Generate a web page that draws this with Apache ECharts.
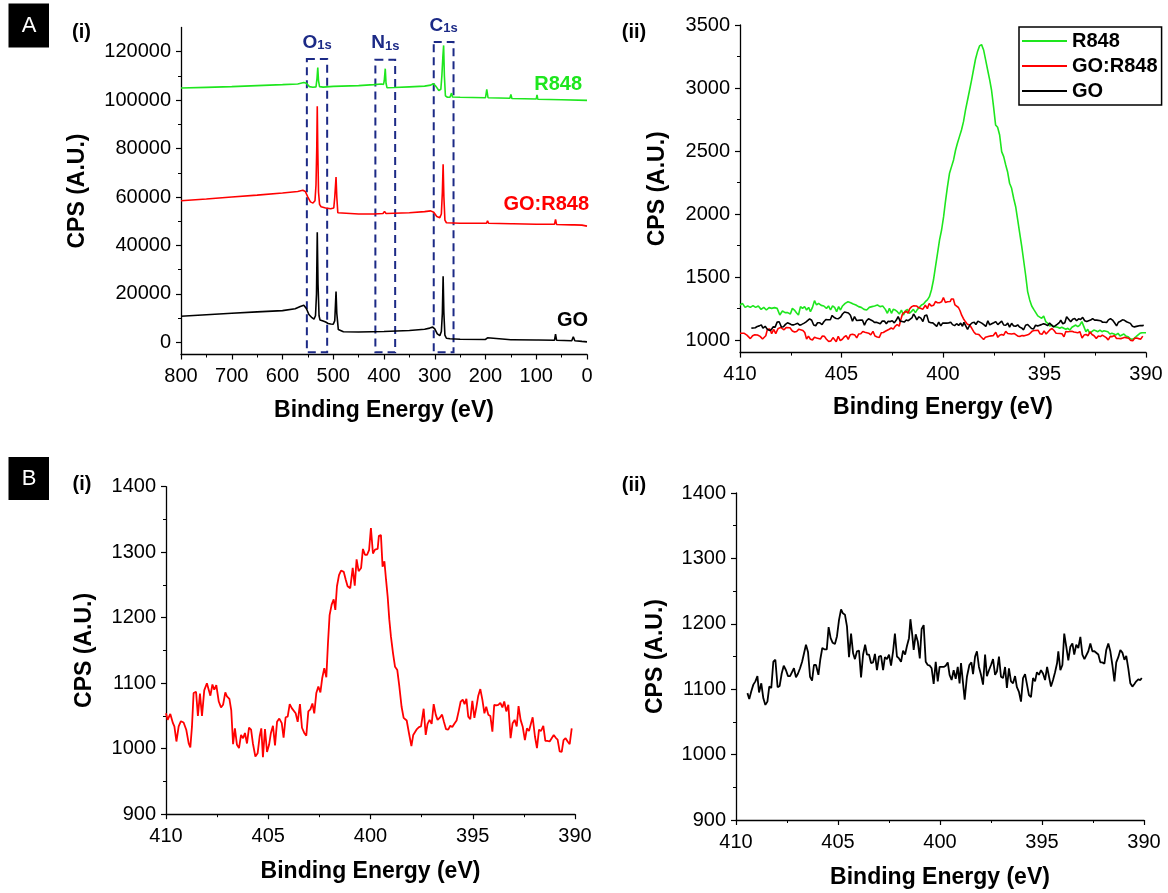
<!DOCTYPE html>
<html><head><meta charset="utf-8">
<script src="https://cdn.jsdelivr.net/npm/echarts@6/dist/echarts.min.js"></script>
<style>html,body{margin:0;padding:0;background:#fff}#c{width:1168px;height:893px}</style>
</head><body><div id="c"></div><script>
// ---------- DATA ----------
// Survey spectra [binding energy eV, CPS]
const surveyGO = [[800,10800],[750,11400],[700,12000],[650,12600],[600,13100],[575,13900],[565,14800],[558,15300],[553,14000],[548,11500],[542,10200],[538,9600],[535,11000],[533,20000],[531.5,45500],[530,24000],[528,11000],[526,9200],[520,8800],[515,8400],[510,7800],[505,7600],[500,7500],[497,9000],[494.5,21000],[493,12000],[490,5300],[487,4600],[480,4400],[450,4300],[400,4500],[350,4900],[320,5400],[310,5900],[304,6300],[300,5600],[295,3500],[290,2800],[287,4500],[285,12000],[283.5,27300],[282,12000],[280,3000],[277,1700],[270,1500],[250,1300],[200,1200],[196,1900],[194,1200],[150,1100],[148,1700],[146,1100],[100,1000],[98,1700],[96,1000],[64,900],[62,3400],[60,900],[30,700],[27,2300],[24,700],[10,400],[0,200]];
const surveyGOR848 = [[800,58500],[750,59200],[700,60000],[650,60800],[600,61700],[570,62300],[560,62800],[555,62300],[550,60000],[545,58000],[540,57500],[536,58500],[534,65000],[532.5,80000],[531.5,97500],[530.5,80000],[529,62000],[527,57000],[524,56000],[515,55500],[505,55200],[499,55500],[497,60000],[494.5,68300],[493,60000],[491,53500],[488,53000],[450,53000],[420,53000],[402,53200],[399,54100],[396,53200],[350,53500],[320,54000],[308,54300],[302,53700],[296,52000],[290,51500],[287,53000],[285,62000],[283.5,73500],[282,60000],[280,50500],[277,49400],[250,49200],[198,49200],[196,50200],[194,49200],[150,49000],[148,49600],[146,49000],[100,48800],[98,49500],[96,48800],[64,48800],[62,50800],[60,48700],[30,48500],[27.5,49300],[25,48500],[10,48400],[0,48000]];
const surveyR848 = [[800,105000],[750,105300],[700,105600],[650,106000],[600,106400],[570,106700],[558,107300],[553,107000],[547,105600],[540,105300],[534,105500],[532,109000],[530.5,113500],[529,108000],[527,105600],[520,105400],[500,105700],[450,106000],[420,106400],[405,106700],[401,106500],[399.5,108000],[397.5,113000],[396,107000],[394,105100],[380,105200],[350,105500],[320,105800],[308,106200],[303,106800],[298,105800],[292,104000],[288,104500],[286,110000],[284,118000],[282.5,122600],[281,110000],[279,101800],[275,101200],[270,101200],[267,102900],[265,101300],[250,101200],[200,101000],[197.5,104500],[195,101000],[152,100800],[150,102400],[148,100700],[100,100500],[98.5,102200],[97,100400],[50,100200],[0,99900]];

// N1s high-resolution spectra [eV, CPS]
const n1sR848 = [[410.00,1278],[409.88,1291],[409.75,1259],[409.62,1270],[409.49,1259],[409.36,1273],[409.23,1259],[409.10,1270],[408.96,1243],[408.83,1259],[408.70,1238],[408.57,1257],[408.44,1251],[408.30,1257],[408.17,1251],[408.04,1198],[407.91,1230],[407.78,1217],[407.65,1217],[407.52,1206],[407.42,1251],[407.32,1238],[407.22,1217],[407.12,1198],[407.02,1265],[406.92,1251],[406.82,1265],[406.72,1238],[406.62,1259],[406.53,1225],[406.43,1259],[406.33,1312],[406.23,1278],[406.13,1291],[406.00,1275],[405.87,1270],[405.74,1251],[405.64,1270],[405.54,1238],[405.44,1270],[405.34,1259],[405.24,1225],[405.14,1265],[405.05,1238],[404.95,1270],[404.82,1291],[404.68,1304],[404.55,1296],[404.42,1286],[404.29,1278],[404.16,1265],[404.03,1259],[403.89,1243],[403.76,1238],[403.63,1259],[403.50,1265],[403.37,1270],[403.23,1278],[403.10,1265],[402.97,1270],[402.84,1243],[402.74,1212],[402.64,1251],[402.54,1212],[402.45,1243],[402.35,1238],[402.25,1225],[402.15,1206],[402.05,1238],[401.95,1198],[401.85,1233],[401.75,1243],[401.66,1212],[401.56,1225],[401.46,1243],[401.36,1217],[401.26,1243],[401.16,1259],[401.06,1278],[400.96,1286],[400.87,1304],[400.77,1318],[400.67,1344],[400.57,1397],[400.47,1476],[400.37,1582],[400.27,1688],[400.17,1794],[400.07,1873],[399.97,1979],[399.88,2098],[399.78,2217],[399.68,2323],[399.58,2376],[399.48,2429],[399.38,2508],[399.29,2561],[399.19,2614],[399.09,2667],[398.99,2733],[398.89,2826],[398.79,2905],[398.69,2984],[398.59,3064],[398.50,3143],[398.40,3228],[398.30,3289],[398.20,3334],[398.10,3344],[398.00,3302],[397.90,3223],[397.80,3143],[397.70,3064],[397.61,2984],[397.51,2852],[397.41,2707],[397.31,2688],[397.21,2627],[397.11,2495],[397.01,2455],[396.91,2389],[396.82,2336],[396.72,2244],[396.62,2204],[396.52,2125],[396.42,2058],[396.32,1953],[396.22,1847],[396.12,1741],[396.03,1635],[395.93,1516],[395.83,1384],[395.73,1318],[395.63,1270],[395.53,1243],[395.43,1217],[395.33,1191],[395.24,1198],[395.14,1172],[395.04,1191],[394.94,1146],[394.84,1132],[394.74,1111],[394.64,1119],[394.54,1106],[394.45,1093],[394.35,1101],[394.25,1093],[394.15,1101],[394.05,1093],[393.95,1085],[393.85,1093],[393.75,1079],[393.65,1101],[393.56,1106],[393.46,1119],[393.36,1106],[393.26,1119],[393.16,1146],[393.06,1106],[392.96,1066],[392.87,1085],[392.77,1053],[392.67,1066],[392.57,1079],[392.47,1074],[392.37,1066],[392.27,1079],[392.17,1066],[392.07,1074],[391.98,1079],[391.88,1066],[391.78,1048],[391.68,1053],[391.58,1048],[391.48,1040],[391.38,1053],[391.28,1032],[391.19,1040],[391.09,1048],[390.99,1032],[390.89,1026],[390.79,1013],[390.69,1005],[390.59,1013],[390.49,1026],[390.40,1040],[390.30,1053],[390.20,1058],[390.10,1058],[390.00,1058]];
const n1sGOR848 = [[410.00,1054],[409.92,1044],[409.79,1053],[409.66,1039],[409.59,1034],[409.49,1011],[409.38,1034],[409.27,1042],[409.14,1040],[409.01,1029],[408.89,1008],[408.81,1002],[408.73,1034],[408.65,1085],[408.53,1087],[408.44,1050],[408.34,1084],[408.24,1050],[408.13,1089],[408.00,1100],[407.91,1100],[407.83,1081],[407.73,1098],[407.64,1090],[407.54,1097],[407.42,1072],[407.31,1063],[407.21,1067],[407.10,1086],[407.02,1080],[406.90,1076],[406.81,1059],[406.72,1007],[406.63,1031],[406.53,1006],[406.43,1001],[406.33,1021],[406.23,1016],[406.14,1024],[406.04,1008],[405.94,1032],[405.84,1029],[405.75,1008],[405.63,988],[405.52,993],[405.42,1019],[405.34,1031],[405.26,987],[405.16,1030],[405.06,995],[404.96,1006],[404.87,1024],[404.77,1035],[404.67,1005],[404.57,1041],[404.46,1046],[404.34,1039],[404.25,1017],[404.15,1048],[404.05,1049],[403.95,1068],[403.85,1062],[403.76,1063],[403.66,1054],[403.56,1041],[403.45,1068],[403.35,1032],[403.24,1024],[403.14,1020],[403.04,1057],[402.94,1060],[402.84,1069],[402.75,1054],[402.65,1085],[402.55,1095],[402.45,1086],[402.36,1108],[402.26,1123],[402.16,1109],[402.08,1161],[402.00,1204],[401.90,1220],[401.80,1228],[401.72,1212],[401.64,1248],[401.54,1265],[401.44,1272],[401.31,1270],[401.21,1258],[401.12,1248],[400.99,1245],[400.87,1276],[400.77,1249],[400.68,1289],[400.58,1271],[400.46,1276],[400.37,1305],[400.27,1296],[400.17,1296],[400.07,1303],[399.98,1337],[399.88,1298],[399.78,1304],[399.65,1305],[399.59,1325],[399.49,1326],[399.41,1278],[399.32,1286],[399.24,1258],[399.16,1232],[399.08,1197],[399.00,1171],[398.90,1146],[398.80,1125],[398.69,1120],[398.59,1095],[398.48,1064],[398.38,1047],[398.23,1043],[398.12,1024],[398.00,1004],[397.91,1021],[397.83,1019],[397.73,1030],[397.63,1033],[397.53,1034],[397.40,1061],[397.30,1021],[397.21,1038],[397.11,1044],[397.01,1038],[396.91,1068],[396.81,1052],[396.72,1044],[396.62,1047],[396.50,1052],[396.41,1041],[396.31,1030],[396.20,1029],[396.10,1035],[396.00,1033],[395.90,1038],[395.79,1043],[395.69,1057],[395.59,1072],[395.49,1075],[395.40,1068],[395.31,1076],[395.22,1049],[395.12,1045],[395.02,1073],[394.92,1047],[394.83,1062],[394.73,1081],[394.63,1091],[394.53,1075],[394.43,1054],[394.34,1064],[394.24,1052],[394.14,1050],[394.04,1026],[393.95,1067],[393.85,1066],[393.75,1067],[393.65,1070],[393.55,1063],[393.46,1072],[393.36,1057],[393.26,1067],[393.15,1016],[393.05,1039],[392.95,1044],[392.85,1034],[392.76,1065],[392.66,1044],[392.56,1034],[392.45,1013],[392.35,1031],[392.25,1027],[392.15,1039],[392.07,1048],[391.96,1019],[391.86,1001],[391.76,1029],[391.66,1027],[391.55,1035],[391.45,1012],[391.35,1012],[391.24,1011],[391.14,1016],[391.04,1021],[390.95,1017],[390.85,1014],[390.75,996],[390.65,995],[390.56,1013],[390.46,1016],[390.36,1011],[390.26,1007],[390.16,1031]];
const n1sGO = [[409.44,1094],[409.35,1085],[409.25,1097],[409.15,1107],[409.05,1112],[408.95,1120],[408.87,1095],[408.76,1109],[408.66,1086],[408.56,1076],[408.46,1081],[408.37,1104],[408.27,1102],[408.17,1142],[408.07,1145],[407.96,1103],[407.86,1105],[407.76,1124],[407.66,1136],[407.55,1129],[407.45,1120],[407.35,1120],[407.26,1120],[407.16,1132],[407.06,1118],[406.96,1124],[406.86,1132],[406.76,1142],[406.67,1145],[406.57,1168],[406.47,1157],[406.37,1119],[406.27,1113],[406.18,1137],[406.08,1137],[405.96,1122],[405.87,1145],[405.77,1163],[405.67,1161],[405.55,1161],[405.46,1195],[405.36,1178],[405.26,1171],[405.15,1169],[405.05,1181],[404.95,1206],[404.85,1222],[404.76,1216],[404.66,1214],[404.56,1196],[404.46,1149],[404.36,1185],[404.26,1155],[404.17,1146],[404.07,1158],[403.97,1159],[403.87,1118],[403.77,1153],[403.67,1168],[403.58,1153],[403.48,1153],[403.38,1140],[403.28,1141],[403.19,1154],[403.09,1129],[402.99,1150],[402.89,1151],[402.79,1129],[402.70,1149],[402.60,1146],[402.50,1153],[402.40,1136],[402.30,1158],[402.21,1185],[402.11,1150],[402.01,1147],[401.91,1142],[401.81,1159],[401.71,1153],[401.62,1166],[401.52,1178],[401.45,1207],[401.36,1183],[401.29,1160],[401.19,1184],[401.09,1173],[400.99,1147],[400.90,1192],[400.80,1198],[400.70,1142],[400.60,1137],[400.50,1136],[400.41,1132],[400.31,1108],[400.21,1142],[400.11,1112],[400.02,1134],[399.92,1134],[399.82,1134],[399.72,1136],[399.62,1141],[399.53,1122],[399.43,1114],[399.33,1129],[399.23,1116],[399.13,1134],[399.04,1109],[398.97,1140],[398.89,1142],[398.79,1084],[398.68,1119],[398.56,1137],[398.46,1141],[398.38,1123],[398.28,1150],[398.19,1158],[398.09,1134],[397.99,1122],[397.89,1107],[397.79,1153],[397.70,1120],[397.60,1129],[397.50,1137],[397.40,1146],[397.30,1122],[397.21,1127],[397.11,1150],[397.01,1119],[396.91,1117],[396.81,1134],[396.72,1102],[396.62,1132],[396.52,1112],[396.42,1109],[396.32,1120],[396.23,1103],[396.13,1096],[396.03,1081],[395.93,1117],[395.83,1123],[395.74,1124],[395.64,1091],[395.54,1088],[395.44,1117],[395.34,1112],[395.25,1126],[395.15,1122],[395.05,1129],[394.95,1124],[394.85,1114],[394.75,1134],[394.66,1137],[394.56,1104],[394.46,1114],[394.36,1126],[394.26,1140],[394.20,1158],[394.10,1129],[394.00,1137],[393.91,1185],[393.81,1165],[393.71,1144],[393.61,1165],[393.51,1170],[393.42,1153],[393.32,1168],[393.22,1163],[393.12,1180],[393.02,1153],[392.92,1146],[392.83,1146],[392.73,1158],[392.63,1170],[392.53,1158],[392.43,1158],[392.34,1156],[392.24,1153],[392.14,1141],[392.04,1141],[391.94,1139],[391.85,1160],[391.75,1170],[391.65,1158],[391.55,1137],[391.45,1112],[391.36,1141],[391.26,1149],[391.16,1160],[391.06,1156],[390.96,1145],[390.87,1151],[390.77,1132],[390.67,1109],[390.57,1104],[390.47,1108],[390.38,1112],[390.28,1115],[390.18,1114],[390.11,1117]];

// Tick labels
const surveyYTicks = [0,20000,40000,60000,80000,100000,120000];
const surveyYMinor = [10000,30000,50000,70000,90000,110000];
const n1sYTicks = [1000,1500,2000,2500,3000,3500];
const n1sYMinor = [1250,1750,2250,2750,3250];
// Peak regions marked on the survey [label, high eV, low eV, top CPS, bottom CPS]
const peakBoxes = [['O',552,512,117000,-4100],['N',417,378,116700,-4100],['C',302,263,124000,-4100]];
const seriesNames = ['R848','GO:R848','GO'];

// ---------- STYLE ----------
const FONT = 'Liberation Sans, Arial, Helvetica, sans-serif';
const GREEN = '#1ee61e', RED = '#ff0000', BLACK = '#000000', NAVY = '#1c2a86';
const plain = function(v){ return String(v); };

function xAx(grid, min, max, interval, gap) {
  return {
    type:'value', gridIndex:grid, min:min, max:max, interval:interval, inverse:true,
    name:'Binding Energy (eV)', nameLocation:'middle', nameGap:gap,
    nameTextStyle:{fontFamily:FONT, fontWeight:'bold', fontSize:23, color:'#000'},
    axisLine:{show:true, onZero:false, lineStyle:{color:'#000', width:1.3}},
    axisTick:{show:true, inside:false, length:5, lineStyle:{color:'#000', width:1.2}},
    minorTick:{show:true, splitNumber:2, length:3, lineStyle:{color:'#000', width:1}},
    axisLabel:{fontFamily:FONT, fontSize:20, color:'#000', margin:12, formatter:plain},
    splitLine:{show:false}, minorSplitLine:{show:false}
  };
}
function yAx(grid, min, max, opts, gap) {
  const ax = {
    type:'value', gridIndex:grid, min:min, max:max, position:'left',
    name:'CPS (A.U.)', nameLocation:'middle', nameGap:gap,
    nameTextStyle:{fontFamily:FONT, fontWeight:'bold', fontSize:23, color:'#000'},
    axisLine:{show:true, onZero:false, lineStyle:{color:'#000', width:1.3}},
    axisTick:{show:true, inside:false, length:5, lineStyle:{color:'#000', width:1.2}},
    axisLabel:{fontFamily:FONT, fontSize:20, color:'#000', margin:10, formatter:plain},
    splitLine:{show:false}, minorSplitLine:{show:false}
  };
  if (opts.ticks) {
    ax.axisTick.customValues = opts.ticks;
    ax.axisLabel.customValues = opts.ticks;
  } else {
    ax.interval = opts.interval;
    ax.minorTick = {show:true, splitNumber:2, length:3, lineStyle:{color:'#000', width:1}};
  }
  return ax;
}
function yMinor(grid, min, max, vals) {
  return {
    type:'value', gridIndex:grid, min:min, max:max, position:'left', offset:0,
    axisLine:{show:false, onZero:false},
    axisTick:{show:true, inside:false, length:3, customValues:vals, lineStyle:{color:'#000', width:1}},
    axisLabel:{show:false}, splitLine:{show:false}
  };
}
function line(name, data, color, xi, yi, w, extra) {
  return Object.assign({
    name:name, type:'line', data:data, xAxisIndex:xi, yAxisIndex:yi,
    symbol:'none', showSymbol:false, smooth:false, silent:true, animation:false,
    lineStyle:{color:color, width:w}, itemStyle:{color:color}
  }, extra || {});
}

const chart = echarts.init(document.getElementById('c'), null, {renderer:'canvas'});
const option = {
  backgroundColor:'#fff',
  animation:false,
  grid:[
    {left:181, top:27.5, width:406, height:327, containLabel:false, outerBoundsMode:'none'},
    {left:740, top:25, width:406, height:327.6, containLabel:false, outerBoundsMode:'none'},
    {left:166, top:486.7, width:409, height:327.5, containLabel:false, outerBoundsMode:'none'},
    {left:736, top:493, width:408, height:327, containLabel:false, outerBoundsMode:'none'}
  ],
  xAxis:[
    xAx(0, 0, 800, 100, 45),
    xAx(1, 390, 410, 5, 44),
    xAx(2, 390, 410, 5, 46),
    xAx(3, 390, 410, 5, 46)
  ],
  yAxis:[
    yAx(0, -5000, 130000, {ticks:surveyYTicks}, 92),
    yMinor(0, -5000, 130000, surveyYMinor),
    yAx(1, 900, 3500, {ticks:n1sYTicks}, 71),
    yMinor(1, 900, 3500, n1sYMinor),
    yAx(2, 900, 1400, {interval:100}, 70),
    yAx(3, 900, 1400, {interval:100}, 69)
  ],
  legend:{
    orient:'vertical', left:1019, top:27, data:seriesNames, selectedMode:false,
    icon:'rect', itemWidth:45, itemHeight:2, itemGap:5, padding:[4,4,4,3],
    borderColor:'#000', borderWidth:1.5, backgroundColor:'#fff',
    textStyle:{fontFamily:FONT, fontWeight:'bold', fontSize:20, color:'#000'}
  },
  series:[
    line('R848', surveyR848, GREEN, 0, 0, 1.6),
    line('GO:R848', surveyGOR848, RED, 0, 0, 1.6),
    line('GO', surveyGO, BLACK, 0, 0, 1.6, {
      clip:false,
      markArea:{
        silent:true,
        itemStyle:{color:'rgba(0,0,0,0)', borderColor:NAVY, borderWidth:2, borderType:[8,5]},
        label:{show:true, position:'top', distance:6,
          formatter:function(p){ return '{a|' + p.name + '}{b|1s}'; },
          rich:{a:{fontFamily:FONT, fontWeight:'bold', fontSize:19, color:NAVY, verticalAlign:'bottom'},
                b:{fontFamily:FONT, fontWeight:'bold', fontSize:13, color:NAVY, verticalAlign:'bottom'}}},
        data: peakBoxes.map(function(b){ return [{name:b[0], coord:[b[1], b[3]]}, {coord:[b[2], b[4]]}]; })
      }
    }),
    line('R848', n1sR848, GREEN, 1, 2, 1.6),
    line('GO:R848', n1sGOR848, RED, 1, 2, 1.6),
    line('GO', n1sGO, BLACK, 1, 2, 1.6),
    line('GO:R848', n1sGOR848, RED, 2, 4, 1.8),
    line('GO', n1sGO, BLACK, 3, 5, 1.8)
  ],
  graphic:[
    {type:'rect', shape:{x:8.5, y:3.5, width:40.5, height:44}, style:{fill:'#000'}},
    {type:'text', x:29, y:25.5, style:{text:'A', fill:'#fff', fontFamily:FONT, fontSize:22, align:'center', verticalAlign:'middle'}},
    {type:'rect', shape:{x:8.5, y:457, width:40.5, height:43}, style:{fill:'#000'}},
    {type:'text', x:29, y:479, style:{text:'B', fill:'#fff', fontFamily:FONT, fontSize:22, align:'center', verticalAlign:'middle'}},
    {type:'text', x:81.5, y:32, style:{text:'(i)', fill:'#000', fontFamily:FONT, fontWeight:'bold', fontSize:20, align:'center', verticalAlign:'middle'}},
    {type:'text', x:634, y:32, style:{text:'(ii)', fill:'#000', fontFamily:FONT, fontWeight:'bold', fontSize:20, align:'center', verticalAlign:'middle'}},
    {type:'text', x:82, y:484, style:{text:'(i)', fill:'#000', fontFamily:FONT, fontWeight:'bold', fontSize:20, align:'center', verticalAlign:'middle'}},
    {type:'text', x:634, y:485, style:{text:'(ii)', fill:'#000', fontFamily:FONT, fontWeight:'bold', fontSize:20, align:'center', verticalAlign:'middle'}},
    {type:'text', x:582, y:84.5, style:{text:'R848', fill:GREEN, fontFamily:FONT, fontWeight:'bold', fontSize:20, align:'right', verticalAlign:'middle'}},
    {type:'text', x:589, y:204.5, style:{text:'GO:R848', fill:RED, fontFamily:FONT, fontWeight:'bold', fontSize:20, align:'right', verticalAlign:'middle'}},
    {type:'text', x:588, y:320, style:{text:'GO', fill:BLACK, fontFamily:FONT, fontWeight:'bold', fontSize:20, align:'right', verticalAlign:'middle'}}
  ]
};
chart.setOption(option);
</script></body></html>
